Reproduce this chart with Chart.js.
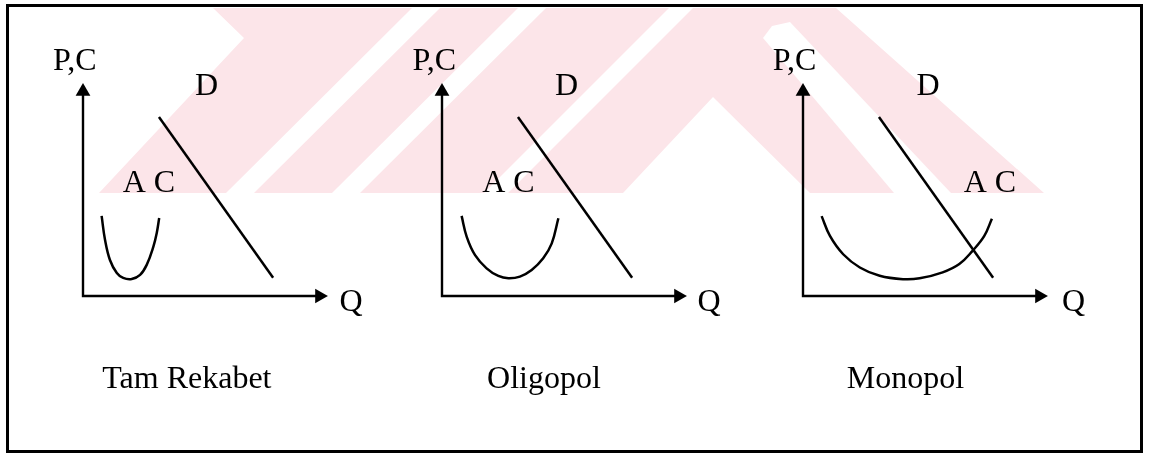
<!DOCTYPE html>
<html lang="tr">
<head>
<meta charset="UTF-8" />
<title>Tam Rekabet, Oligopol, Monopol</title>
<script src="https://cdn.jsdelivr.net/npm/chart.js"></script>
<style>
  body { margin: 0; background: #fff; }
  .wrap { position: relative; width: 1151px; height: 453px; overflow: hidden; }
  .frame { position: absolute; left: 6px; top: 4px; width: 1137px; height: 449px;
           border: 3px solid #000; box-sizing: border-box; }
  .mark { position: absolute; left: 0; top: 0; }
  canvas { position: absolute; top: 0; }
</style>
</head>
<body>
<div class="wrap">
  <!-- faint watermark behind the figure -->
  <svg class="mark" width="1151" height="453">
    <polygon fill="#fce5e9" points="99,193 244,38 213,8 836,8 1044,193" />
    <g fill="#fff">
      <polygon points="226,193 254,193 440,8 412,8" />
      <polygon points="332,193 360,193 546,8 518,8" />
      <polygon points="484,193 508,193 693,8 669,8" />
      <polygon points="623,193 713,97 810,193" />
      <polygon points="894,193 951,193 790,22 772,26 763,38" />
    </g>
  </svg>
  <div class="frame"></div>
  <canvas id="c0" width="400" height="453" style="left:0px"></canvas>
  <canvas id="c1" width="400" height="453" style="left:359px"></canvas>
  <canvas id="c2" width="400" height="453" style="left:720px"></canvas>
</div>

<script>
  // market names under each panel
  const panelNames = ['Tam Rekabet', 'Oligopol', 'Monopol'];

  // demand line D (same in all three panels)
  const demandQ = [3.1, 7.76];
  const demandP = [8.4, 0.86];

  // average cost curves
  const acQ1 = [0.76, 0.90, 1.10, 1.38, 1.64, 1.99, 2.33, 2.60, 2.87, 3.01, 3.11];
  const acP1 = [3.76, 2.63, 1.69, 1.08, 0.85, 0.80, 0.99, 1.46, 2.31, 2.96, 3.66];
  const acQ2 = [0.80, 1.01, 1.35, 1.82, 2.30, 2.71, 3.18, 3.66, 4.13, 4.48, 4.75];
  const acP2 = [3.76, 2.78, 1.92, 1.30, 0.94, 0.83, 0.91, 1.22, 1.77, 2.47, 3.65];
  const acQ3 = [0.76, 1.10, 1.64, 2.32, 3.13, 4.08, 4.76, 5.70, 6.38, 6.92, 7.40, 7.71];
  const acP3 = [3.75, 2.82, 1.96, 1.34, 0.95, 0.79, 0.83, 1.11, 1.50, 2.12, 2.82, 3.63];

  // axes: top of P axis, origin, end of Q axis
  const axisQ = [0, 0, 9.65];
  const axisP = [9.6, 0, 0];

  // text labels: P,C / D / A C / Q / panel name
  const labelTexts = ['P,C', 'D', 'A C', 'Q'];
  const labelQ1 = [-0.33, 5.04, 2.69, 10.94, 4.24];
  const labelQ2 = [-0.31, 5.08, 2.71, 10.90, 4.16];
  const labelQ3 = [-0.35, 5.10, 7.63, 11.04, 4.18];
  const labelP = [10.63, 9.46, 4.9, -0.7, -4.3];

  const toPoints = (xs, ys) => xs.map((v, i) => ({ x: v, y: ys[i] }));

  const textLabels = {
    id: 'textLabels',
    afterDatasetsDraw(chart, args, opts) {
      const { ctx, scales: { x, y } } = chart;
      ctx.save();
      ctx.font = '32px "Liberation Serif", "Times New Roman", serif';
      ctx.fillStyle = '#000';
      ctx.textAlign = 'center';
      ctx.textBaseline = 'alphabetic';
      opts.items.forEach(it => {
        ctx.fillText(it.text, x.getPixelForValue(it.q), y.getPixelForValue(it.p));
      });
      ctx.restore();
    }
  };

  function drawPanel(id, name, acQ, acP, labelQ) {
    const items = labelTexts.concat([name]).map((t, i) => ({ text: t, q: labelQ[i], p: labelP[i] }));

    new Chart(document.getElementById(id), {
      type: 'scatter',
      data: {
        datasets: [
          {
            label: 'axes',
            data: toPoints(axisQ, axisP),
            showLine: true,
            borderColor: '#000',
            borderWidth: 2.4,
            borderJoinStyle: 'miter',
            pointStyle: 'triangle',
            pointRadius: [8.5, 0, 8.5],
            pointRotation: [0, 0, 90],
            pointBackgroundColor: '#000',
            pointBorderWidth: 0,
            clip: false
          },
          {
            label: 'D',
            data: toPoints(demandQ, demandP),
            showLine: true,
            borderColor: '#000',
            borderWidth: 2.5,
            pointRadius: 0,
            clip: false
          },
          {
            label: 'AC',
            data: toPoints(acQ, acP),
            showLine: true,
            borderColor: '#000',
            borderWidth: 2.5,
            tension: 0.4,
            pointRadius: 0,
            clip: false
          }
        ]
      },
      options: {
        responsive: false,
        animation: false,
        devicePixelRatio: 1,
        events: [],
        layout: { padding: { left: 83, top: 83, right: 72, bottom: 157 } },
        scales: {
          x: { type: 'linear', min: 0, max: 10, display: false },
          y: { type: 'linear', min: 0, max: 10, display: false }
        },
        plugins: {
          legend: { display: false },
          tooltip: { enabled: false },
          textLabels: { items: items }
        }
      },
      plugins: [textLabels]
    });
  }

  drawPanel('c0', panelNames[0], acQ1, acP1, labelQ1);
  drawPanel('c1', panelNames[1], acQ2, acP2, labelQ2);
  drawPanel('c2', panelNames[2], acQ3, acP3, labelQ3);
</script>
</body>
</html>
